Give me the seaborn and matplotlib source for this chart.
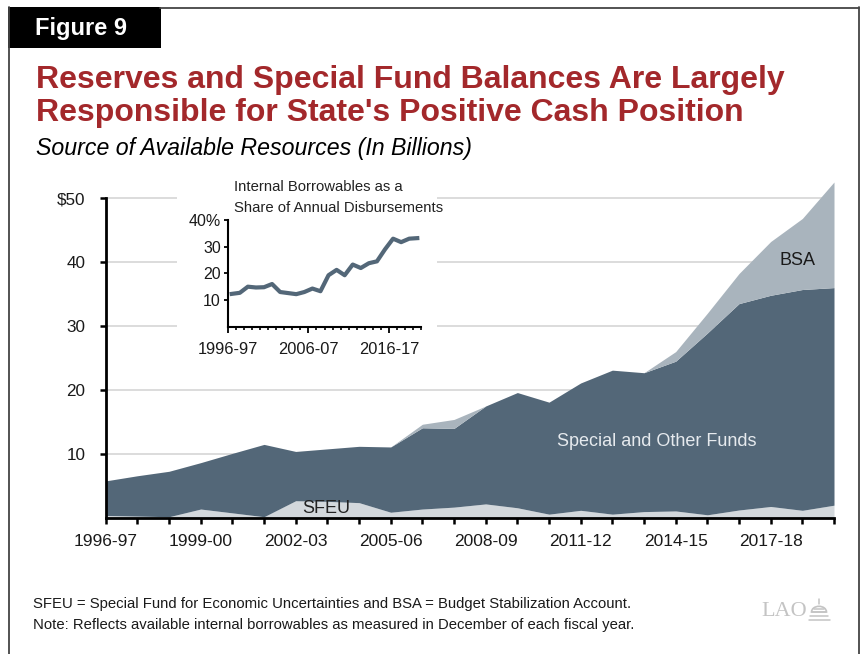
import numpy as np
import pandas as pd
import matplotlib
matplotlib.use("Agg")
import matplotlib.pyplot as plt
import seaborn as sns
from matplotlib.patches import Rectangle, Wedge
from matplotlib.lines import Line2D

# Fiscal years shown on the main chart
years = ["1996-97", "1997-98", "1998-99", "1999-00", "2000-01", "2001-02",
         "2002-03", "2003-04", "2004-05", "2005-06", "2006-07", "2007-08",
         "2008-09", "2009-10", "2010-11", "2011-12", "2012-13", "2013-14",
         "2014-15", "2015-16", "2016-17", "2017-18", "2018-19", "2019-20"]

# Available resources, in billions of dollars
sfeu = [0.4, 0.3, 0.2, 1.4, 0.8, 0.2, 2.7, 2.6, 2.4, 0.9, 1.4, 1.7,
        2.2, 1.6, 0.6, 1.2, 0.6, 1.0, 1.1, 0.5, 1.25, 1.8, 1.2, 2.0]
special_other = [5.4, 6.3, 7.1, 7.25, 9.3, 11.3, 7.7, 8.2, 8.8, 10.2, 12.7, 12.3,
                 15.3, 18.0, 17.5, 19.9, 22.5, 21.7, 23.4, 28.4, 32.25, 33.0, 34.5, 34.0]
bsa = [0, 0, 0, 0, 0, 0, 0, 0, 0, 0, 0.55, 1.4,
       0, 0, 0, 0, 0, 0, 1.5, 3.1, 4.7, 8.4, 11.1, 16.5]

# Internal borrowables as a share of annual disbursements (percent)
share_pct = [12.3, 12.7, 15.0, 14.7, 14.8, 16.0, 13.0, 12.6, 12.2, 13.0, 14.3, 13.3,
             19.3, 21.3, 19.3, 23.3, 22.0, 23.8, 24.5, 29.0, 33.0, 31.7, 33.0, 33.2]

main_yticks = [10, 20, 30, 40, 50]
main_ytick_labels = ["10", "20", "30", "40", "$50"]
inset_yticks = [10, 20, 30, 40]
inset_ytick_labels = ["10", "20", "30", "40%"]
inset_xtick_labels = ["1996-97", "2006-07", "2016-17"]

sns.set_theme(style="white")
plt.rcParams["font.family"] = ["Liberation Sans", "DejaVu Sans"]

W, H = 863, 654
fig = plt.figure(figsize=(W / 100, H / 100), dpi=100)
fig.patch.set_facecolor("white")


def fx(px):
    return px / W


def fy(py):
    return 1 - py / H


C_SFEU = "#d3d8dc"
C_SPECIAL = "#536778"
C_BSA = "#a9b4bd"
TXT = "#1a1a1a"

# ---- page frame and figure tag ----
fig.add_artist(Line2D([fx(160), fx(859)], [fy(7.5), fy(7.5)], color="#444444", lw=1.3))
fig.add_artist(Line2D([fx(9), fx(9)], [fy(7), fy(654)], color="#444444", lw=1.3))
fig.add_artist(Line2D([fx(859), fx(859)], [fy(7), fy(654)], color="#444444", lw=1.3))
fig.add_artist(Rectangle((fx(8), fy(48)), fx(153), 41 / H, facecolor="black",
                         edgecolor="none"))
fig.text(fx(35), fy(28), "Figure 9", color="white", fontsize=17,
         fontweight="bold", va="center", ha="left")

# ---- titles ----
fig.text(fx(36), fy(80), "Reserves and Special Fund Balances Are Largely",
         color="#a3282b", fontsize=23, fontweight="bold", va="center", ha="left")
fig.text(fx(36), fy(113), "Responsible for State's Positive Cash Position",
         color="#a3282b", fontsize=23, fontweight="bold", va="center", ha="left")
fig.text(fx(36), fy(149), "Source of Available Resources (In Billions)",
         color="black", fontsize=16.7, fontstyle="italic", va="center", ha="left")

# ---- main stacked area chart ----
x0, x1 = 105.7, 834.0
y_zero, y_top = 518.0, 178.8
ax = fig.add_axes([fx(x0), fy(y_zero), (x1 - x0) / W, (y_zero - y_top) / H])
xs = np.arange(len(years))
ax.stackplot(xs, sfeu, special_other, bsa, colors=[C_SFEU, C_SPECIAL, C_BSA],
             linewidth=0, zorder=2)
ax.set_xlim(0, len(years) - 1)
ax.set_ylim(0, 53)
ax.set_facecolor("white")
ax.set_yticks(main_yticks)
ax.set_yticklabels(main_ytick_labels)
ax.yaxis.grid(True, color="#dcdcdc", lw=1.4, zorder=0)
ax.xaxis.grid(False)
ax.set_axisbelow(True)
ax.set_xticks(xs)
ax.set_xticklabels([y if i % 3 == 0 else "" for i, y in enumerate(years)])
for s in ["top", "right"]:
    ax.spines[s].set_visible(False)
ax.spines["left"].set_bounds(0, 50)
for s in ["left", "bottom"]:
    ax.spines[s].set_color("black")
    ax.spines[s].set_linewidth(2)
    ax.spines[s].set_zorder(4)
ax.tick_params(axis="y", left=True, direction="out", length=4.5, width=1.8,
               color="black", pad=10, labelsize=12.3, labelcolor=TXT)
ax.tick_params(axis="x", bottom=True, direction="out", length=4.5, width=1.8,
               color="black", pad=7, labelsize=12.5, labelcolor=TXT)
ax.set_xlabel("")
ax.set_ylabel("")

ax.text(21.85, 40.3, "BSA", color=TXT, fontsize=13, ha="center", va="center", zorder=5)
ax.text(17.4, 12.0, "Special and Other Funds", color="#e6eaee", fontsize=13,
        ha="center", va="center", zorder=5)
ax.text(6.95, 1.45, "SFEU", color="#222222", fontsize=13, ha="center", va="center",
        zorder=5)

# white panel behind the inset
fig.add_artist(Rectangle((fx(177), fy(368)), fx(437 - 177), (368 - 176) / H,
                         facecolor="white", edgecolor="none", zorder=1.5))

# ---- inset line chart ----
ix0, ix1 = 227.7, 421.3
iy0, iy40 = 326.7, 220.0
axi = fig.add_axes([fx(ix0), fy(iy0), (ix1 - ix0) / W, (iy0 - iy40) / H])
axi.set_zorder(3)
inset_df = pd.DataFrame({"pos": np.arange(len(share_pct)) + 0.5, "share": share_pct})
sns.lineplot(data=inset_df, x="pos", y="share", ax=axi, color=C_SPECIAL, lw=3.0,
             solid_capstyle="projecting", solid_joinstyle="round")
axi.set_xlim(0, len(share_pct))
axi.set_ylim(0, 40)
axi.set_facecolor("white")
axi.set_yticks(inset_yticks)
axi.set_yticklabels(inset_ytick_labels)
axi.set_xticks([0, 10, 20])
axi.set_xticklabels(inset_xtick_labels)
axi.set_xticks(np.arange(0, len(share_pct) + 1), minor=True)
axi.grid(False)
for s in ["top", "right"]:
    axi.spines[s].set_visible(False)
for s in ["left", "bottom"]:
    axi.spines[s].set_color("black")
    axi.spines[s].set_linewidth(1.5)
axi.tick_params(axis="y", left=True, direction="out", length=3, width=1.3,
                color="black", pad=2, labelsize=11.5, labelcolor=TXT)
axi.tick_params(axis="x", which="major", bottom=True, direction="out", length=4,
                width=1.3, color="black", pad=7, labelsize=11.8, labelcolor=TXT)
axi.tick_params(axis="x", which="minor", bottom=True, direction="out", length=2.5,
                width=1.2, color="black")
axi.set_xlabel("")
axi.set_ylabel("")
fig.text(fx(234), fy(187), "Internal Borrowables as a", color="#222222",
         fontsize=10.7, ha="left", va="center", zorder=4)
fig.text(fx(234), fy(208), "Share of Annual Disbursements", color="#222222",
         fontsize=10.7, ha="left", va="center", zorder=4)

# ---- notes ----
fig.text(fx(33), fy(604), "SFEU = Special Fund for Economic Uncertainties and BSA = "
         "Budget Stabilization Account.", color=TXT, fontsize=10.7, ha="left",
         va="center")
fig.text(fx(33), fy(625), "Note: Reflects available internal borrowables as measured "
         "in December of each fiscal year.", color=TXT, fontsize=10.7, ha="left",
         va="center")

# ---- LAO mark ----
LOGO = "#c4c4c4"
fig.text(fx(761), fy(612), "LAO", family=["Liberation Serif", "DejaVu Serif"],
         color=LOGO, fontsize=16, ha="left", va="center")
# small capitol dome next to the letters
fig.add_artist(Line2D([fx(819), fx(819)], [fy(599), fy(604)], color=LOGO, lw=1.1))
fig.add_artist(Wedge((fx(819), fy(612)), 7.5 / W, 0, 180, facecolor="none",
                     edgecolor=LOGO, lw=1.2, transform=fig.transFigure))
for yy, half in [(609, 5), (612, 7), (616, 9), (620, 10.5)]:
    fig.add_artist(Line2D([fx(819 - half), fx(819 + half)], [fy(yy), fy(yy)],
                          color=LOGO, lw=1.1))

fig.savefig("out.png", dpi=100, facecolor="white")
